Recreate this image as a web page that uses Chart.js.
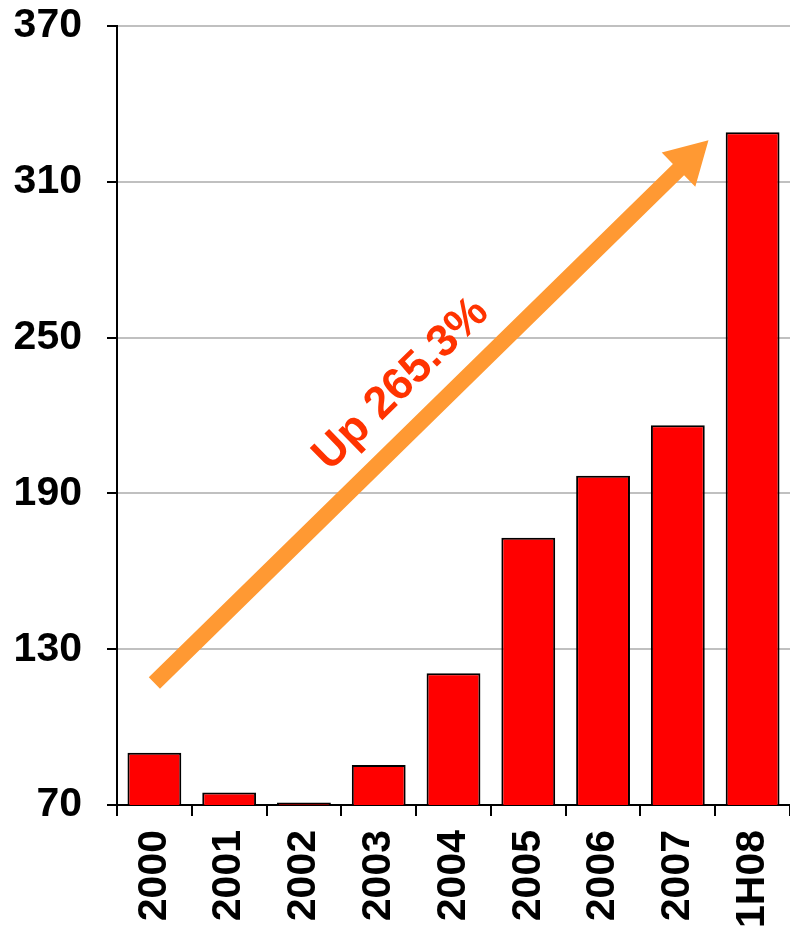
<!DOCTYPE html>
<html>
<head>
<meta charset="utf-8">
<script src="https://cdn.jsdelivr.net/npm/chart.js@4"></script>
<style>
html,body{margin:0;padding:0;background:#fff;}
#wrap{width:790px;height:928px;position:relative;}
</style>
</head>
<body>
<div id="wrap"><canvas id="c"></canvas></div>
<script>
const categories = ['2000','2001','2002','2003','2004','2005','2006','2007','1H08'];
const values = [90.1, 74.8, 71.0, 85.4, 120.7, 172.9, 196.8, 216.2, 329.1];
const yTicks = [70, 130, 190, 250, 310, 370];
const arrowFrom = {index: 0, value: 117};
const arrowTo = {index: 7.41, value: 326};
const annotationText = 'Up 265.3%';
const annotationPos = {index: 3.3, value: 232};

function px(scale, idx) {
  const i0 = Math.floor(idx), f = idx - i0;
  const a = scale.getPixelForValue(i0);
  if (i0 + 1 > categories.length - 1) return a + f * (a - scale.getPixelForValue(i0 - 1));
  const b = scale.getPixelForValue(i0 + 1);
  return a + f * (b - a);
}

const arrowPlugin = {
  id: 'arrow',
  afterDatasetsDraw(chart) {
    const {ctx, scales: {x, y}} = chart;
    const x1 = px(x, arrowFrom.index), y1 = y.getPixelForValue(arrowFrom.value);
    const x2 = px(x, arrowTo.index), y2 = y.getPixelForValue(arrowTo.value);
    const ang = Math.atan2(y2 - y1, x2 - x1);
    const headLen = 42, headW = 24, shaft = 8;
    ctx.save();
    ctx.fillStyle = '#FF9933';
    ctx.translate(x1, y1);
    ctx.rotate(ang);
    const L = Math.hypot(x2 - x1, y2 - y1);
    ctx.beginPath();
    ctx.moveTo(0, -shaft);
    ctx.lineTo(L - headLen, -shaft);
    ctx.lineTo(L - headLen, -headW);
    ctx.lineTo(L, 0);
    ctx.lineTo(L - headLen, headW);
    ctx.lineTo(L - headLen, shaft);
    ctx.lineTo(0, shaft);
    ctx.closePath();
    ctx.fill();
    ctx.restore();

    const tx = px(x, annotationPos.index), ty = y.getPixelForValue(annotationPos.value);
    ctx.save();
    ctx.translate(tx, ty);
    ctx.rotate(ang);
    ctx.fillStyle = '#FF3300';
    ctx.font = 'bold 45px "Liberation Sans", Arial, sans-serif';
    ctx.textAlign = 'center';
    ctx.textBaseline = 'middle';
    ctx.fillText(annotationText, 0, 0);
    ctx.restore();
  }
};

new Chart(document.getElementById('c'), {
  type: 'bar',
  data: {
    labels: categories,
    datasets: [{
      data: values,
      backgroundColor: '#FF0000',
      borderColor: '#000000',
      borderWidth: 2,
      borderSkipped: 'bottom',
      barPercentage: 0.72,
      categoryPercentage: 1.0
    }]
  },
  options: {
    responsive: true,
    maintainAspectRatio: false,
    animation: false,
    layout: {padding: {top: 26, right: 0, left: 0, bottom: 0}},
    plugins: {legend: {display: false}, tooltip: {enabled: false}},
    scales: {
      x: {
        grid: {offset: true, drawOnChartArea: false, color: '#000', tickColor: '#000', tickLength: 11, lineWidth: 2},
        border: {color: '#000', width: 2},
        ticks: {
          minRotation: 90, maxRotation: 90, padding: 14,
          color: '#000',
          font: {family: '"Liberation Sans", Arial, sans-serif', size: 41, weight: 'bold'}
        },
        afterFit(s) { s.height = 123; s.paddingLeft = 0; s.paddingRight = 0; }
      },
      y: {
        min: 70, max: 370,
        afterBuildTicks(s) { s.ticks = yTicks.map(v => ({value: v})); },
        grid: {color: '#C0C0C0', tickColor: '#000', tickLength: 10, lineWidth: 2},
        border: {color: '#000', width: 2},
        ticks: {
          padding: 25, color: '#000',
          font: {family: '"Liberation Sans", Arial, sans-serif', size: 41, weight: 'bold'}
        },
        afterFit(s) { s.width = 117; s.paddingTop = 0; s.paddingBottom = 0; }
      }
    }
  },
  plugins: [arrowPlugin]
});
</script>
</body>
</html>
